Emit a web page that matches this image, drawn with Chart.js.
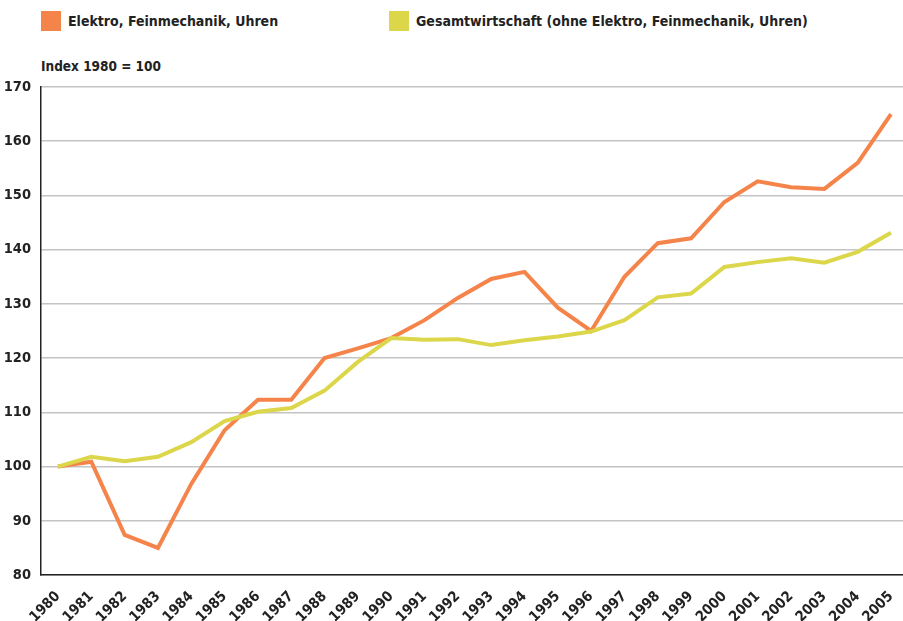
<!DOCTYPE html>
<html>
<head>
<meta charset="utf-8">
<script src="https://cdn.jsdelivr.net/npm/chart.js@4"></script>
<style>
  html, body { margin: 0; padding: 0; background: #fff; }
  body { width: 903px; height: 621px; position: relative; overflow: hidden;
         font-family: 'DejaVu Sans Condensed', 'DejaVu Sans', sans-serif; font-weight: bold; color: #222; }
  .leg { position: absolute; top: 11px; height: 20px; line-height: 20px; font-size: 14px; white-space: nowrap; }
  .leg span.box { display: inline-block; width: 20px; height: 20px; vertical-align: top; margin-right: 7px; }
  #unit { position: absolute; left: 41px; top: 58px; font-size: 13.5px; }
  #wrap { position: absolute; left: 0; top: 0; width: 903px; height: 621px; }
</style>
</head>
<body>
<div class="leg" style="left:41px"><span class="box" style="background:#f5844a"></span>Elektro, Feinmechanik, Uhren</div>
<div class="leg" style="left:389px"><span class="box" style="background:#dcd64a"></span>Gesamtwirtschaft (ohne Elektro, Feinmechanik, Uhren)</div>
<div id="unit">Index 1980 = 100</div>
<div id="wrap"><canvas id="trendChart"></canvas></div>
<script>
const years = [1980, 1981, 1982, 1983, 1984, 1985, 1986, 1987, 1988, 1989, 1990, 1991, 1992,
               1993, 1994, 1995, 1996, 1997, 1998, 1999, 2000, 2001, 2002, 2003, 2004, 2005];
const elektro = [100, 100.9, 87.4, 85.0, 96.8, 106.7, 112.3, 112.3, 120.0, 121.8, 123.7, 127.0, 131.1,
                 134.6, 135.9, 129.3, 125.0, 135.0, 141.2, 142.1, 148.8, 152.6, 151.5, 151.2, 156.0, 165.0];
const gesamt = [100, 101.8, 101.0, 101.8, 104.5, 108.4, 110.1, 110.8, 114.0, 119.3, 123.7, 123.4, 123.5,
                122.4, 123.3, 124.0, 124.9, 127.0, 131.2, 131.9, 136.8, 137.7, 138.4, 137.6, 139.6, 143.1];
const yTicks = [80, 90, 100, 110, 120, 130, 140, 150, 160, 170];

const toPoints = (vals) => vals.map((v, i) => ({ x: years[i], y: v }));

Chart.defaults.font.family = "'DejaVu Sans Condensed', 'DejaVu Sans', sans-serif";
Chart.defaults.font.weight = 'bold';
Chart.defaults.color = '#222';

const ctx = document.getElementById('trendChart').getContext('2d');
new Chart(ctx, {
    type: 'line',
    data: {
        datasets: [
            {
                label: 'Gesamtwirtschaft (ohne Elektro, Feinmechanik, Uhren)',
                data: toPoints(gesamt),
                borderColor: '#dcd64a',
                borderWidth: 4,
                pointRadius: 0,
                tension: 0
            },
            {
                label: 'Elektro, Feinmechanik, Uhren',
                data: toPoints(elektro),
                borderColor: '#f5844a',
                borderWidth: 4,
                pointRadius: 0,
                tension: 0
            }
        ]
    },
    options: {
        responsive: true,
        maintainAspectRatio: false,
        animation: false,
        layout: { padding: { top: 87, left: 0, right: 0, bottom: 0 } },
        plugins: {
            legend: { display: false },
            tooltip: { enabled: false }
        },
        scales: {
            x: {
                type: 'linear',
                min: 1979.49,
                max: 2005.36,
                afterBuildTicks: (scale) => { scale.ticks = years.map(v => ({ value: v })); },
                afterFit: (scale) => {
                    scale.height = 46;
                    scale.paddingLeft = 0;
                    scale.paddingRight = 0;
                },
                grid: { display: false, drawTicks: false },
                border: { color: '#222', width: 1.5 },
                ticks: {
                    autoSkip: false,
                    maxRotation: 45,
                    minRotation: 45,
                    padding: 13,
                    font: { size: 14.5, weight: 'bold' },
                    callback: (v) => String(v)
                }
            },
            y: {
                min: 80,
                max: 170,
                afterBuildTicks: (scale) => { scale.ticks = yTicks.map(v => ({ value: v })); },
                afterFit: (scale) => {
                    scale.width = 41;
                    scale.paddingTop = 0;
                    scale.paddingBottom = 0;
                },
                grid: { color: '#c4c4c4', lineWidth: 1.5, drawTicks: false },
                border: { color: '#222', width: 1.5 },
                ticks: {
                    padding: 10,
                    font: { size: 14.5, weight: 'bold' }
                }
            }
        }
    }
});
</script>
</body>
</html>
